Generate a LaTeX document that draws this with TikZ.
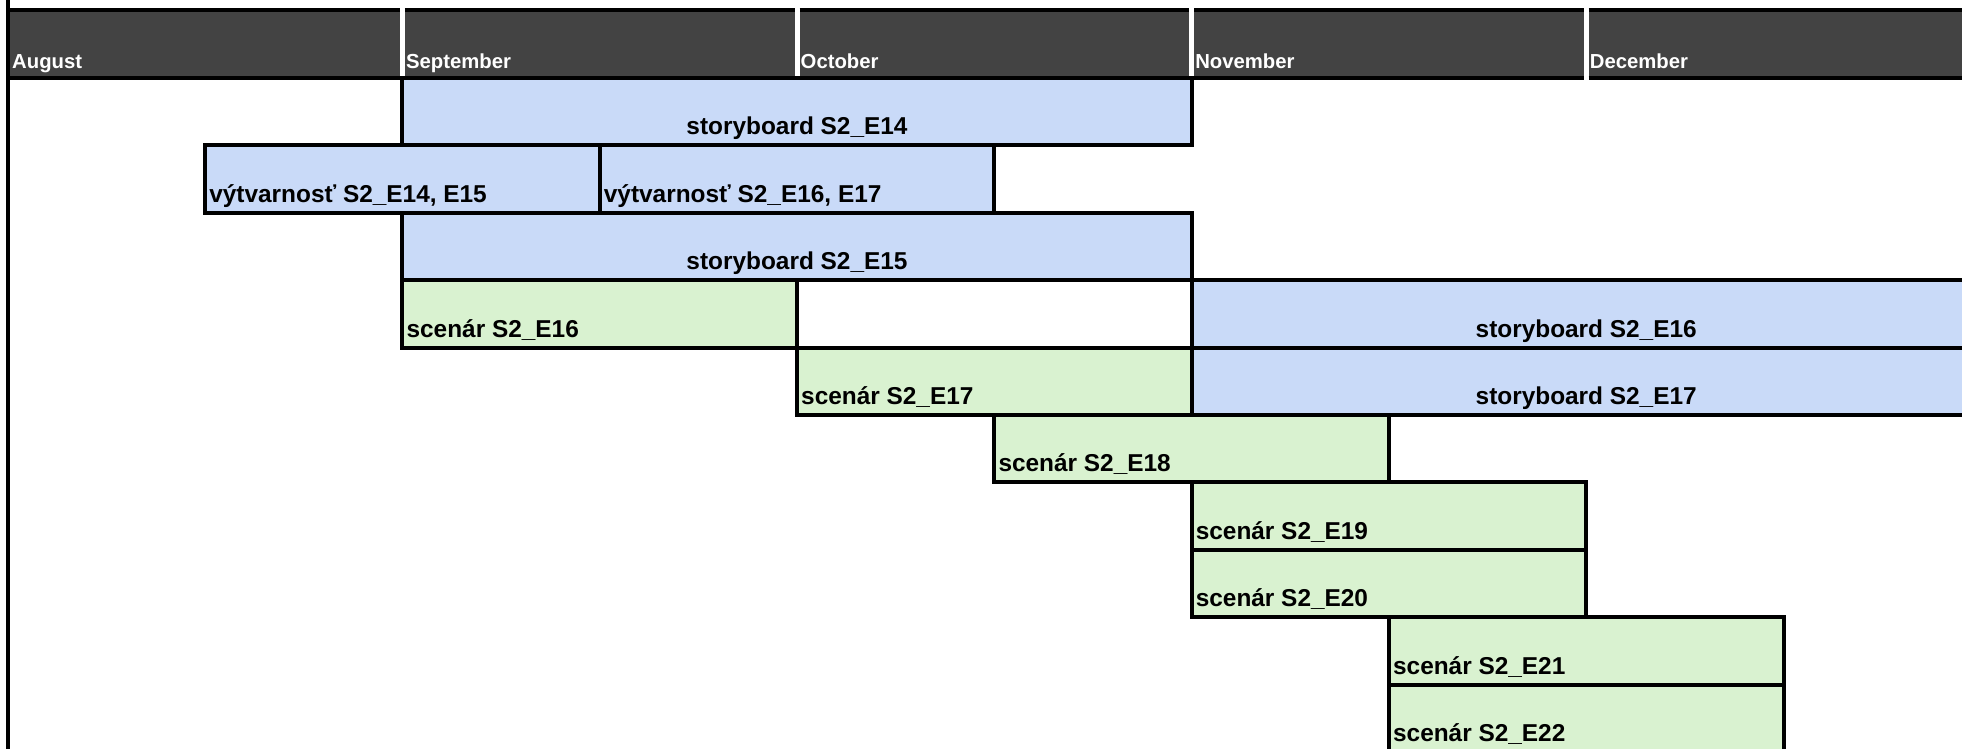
\documentclass[tikz,border=0pt]{standalone}
\usepackage{fontspec}
\setmainfont{Liberation Sans}
\definecolor{hdrgray}{HTML}{434343}
\definecolor{barblue}{HTML}{C9DAF8}
\definecolor{bargreen}{HTML}{D9F2D0}
\tikzset{
  gbox/.style={draw=black, line width=4pt, inner sep=0pt, outer sep=0pt, anchor=north west, minimum height=67.4pt},
  bluebox/.style={gbox, fill=barblue},
  greenbox/.style={gbox, fill=bargreen},
  hdrcell/.style={fill=hdrgray, inner sep=0pt, outer sep=0pt, anchor=north west, minimum height=68pt},
  hline/.style={draw=black, line width=4pt, line cap=butt},
  hdrtext/.style={text=white, font=\fontsize{20.3}{24}\selectfont\bfseries, inner sep=0pt, anchor=base west},
  ltext/.style={text=black, font=\fontsize{24.4}{28}\selectfont\bfseries, inner sep=0pt, anchor=base west},
  ctext/.style={text=black, font=\fontsize{24.4}{28}\selectfont\bfseries, inner sep=0pt, anchor=base},
}
\begin{document}
\begin{tikzpicture}[x=1pt, y=-1pt]
\useasboundingbox (0,0) rectangle (1962,749);
\clip (0,0) rectangle (1962,749);
\fill[white] (0,0) rectangle (1962,749);

% header cells
\node[hdrcell, minimum width=391.9pt] (hAug) at (8,10) {};
\node[hdrcell, minimum width=389.6pt] (hSep) at (404.9,10) {};
\node[hdrcell, minimum width=389.6pt] (hOct) at (799.5,10) {};
\node[hdrcell, minimum width=389.6pt] (hNov) at (1194.1,10) {};
\node[hdrcell, minimum width=389.6pt] (hDec) at (1588.7,10) {};
\foreach \h in {hAug,hSep,hOct,hNov,hDec}{
  \draw[hline] (\h.north west) -- (\h.north east);
  \draw[hline] (\h.south west) -- (\h.south east);
}
\node[hdrtext] (tAug) at (12,69) {August};
\node[hdrtext] (tSep) at (405.9,69) {September};
\node[hdrtext] (tOct) at (800.5,69) {October};
\node[hdrtext] (tNov) at (1195.1,69) {November};
\node[hdrtext] (tDec) at (1589.7,69) {December};

% bars
\node[bluebox, minimum width=789.2pt] (b1) at (402.4,78) {};
\node[ctext] (l1) at ([shift={(0,-10.5)}]b1.south) {storyboard S2\_E14};

\node[bluebox, minimum width=394.6pt] (b2) at (205.1,145.4) {};
\node[ltext] (l2) at ([shift={(4,-10.5)}]b2.south west) {výtvarnosť S2\_E14, E15};

\node[bluebox, minimum width=394.6pt] (b3) at (599.7,145.4) {};
\node[ltext] (l3) at ([shift={(4,-10.5)}]b3.south west) {výtvarnosť S2\_E16, E17};

\node[bluebox, minimum width=789.2pt] (b4) at (402.4,212.8) {};
\node[ctext] (l4) at ([shift={(0,-10.5)}]b4.south) {storyboard S2\_E15};

\node[greenbox, minimum width=394.6pt] (b5) at (402.4,280.2) {};
\node[ltext] (l5) at ([shift={(4,-10.5)}]b5.south west) {scenár S2\_E16};

\node[bluebox, minimum width=789.2pt] (b6) at (1191.6,280.2) {};
\node[ctext] (l6) at ([shift={(0,-10.5)}]b6.south) {storyboard S2\_E16};

\node[greenbox, minimum width=394.6pt] (b7) at (797,347.6) {};
\node[ltext] (l7) at ([shift={(4,-10.5)}]b7.south west) {scenár S2\_E17};

\node[bluebox, minimum width=789.2pt] (b8) at (1191.6,347.6) {};
\node[ctext] (l8) at ([shift={(0,-10.5)}]b8.south) {storyboard S2\_E17};

\node[greenbox, minimum width=394.6pt] (b9) at (994.3,415) {};
\node[ltext] (l9) at ([shift={(4,-10.5)}]b9.south west) {scenár S2\_E18};

\node[greenbox, minimum width=394.6pt] (b10) at (1191.6,482.4) {};
\node[ltext] (l10) at ([shift={(4,-10.5)}]b10.south west) {scenár S2\_E19};

\node[greenbox, minimum width=394.6pt] (b11) at (1191.6,549.8) {};
\node[ltext] (l11) at ([shift={(4,-10.5)}]b11.south west) {scenár S2\_E20};

\node[greenbox, minimum width=394.6pt] (b12) at (1388.9,617.2) {};
\node[ltext] (l12) at ([shift={(4,-10.5)}]b12.south west) {scenár S2\_E21};

\node[greenbox, minimum width=394.6pt] (b13) at (1388.9,684.6) {};
\node[ltext] (l13) at ([shift={(4,-10.5)}]b13.south west) {scenár S2\_E22};

% left axis line
\coordinate (axtop) at (8,0);
\coordinate (axbot) at (8,749);
\draw[hline] (axtop) -- (axbot);
\end{tikzpicture}
\end{document}
